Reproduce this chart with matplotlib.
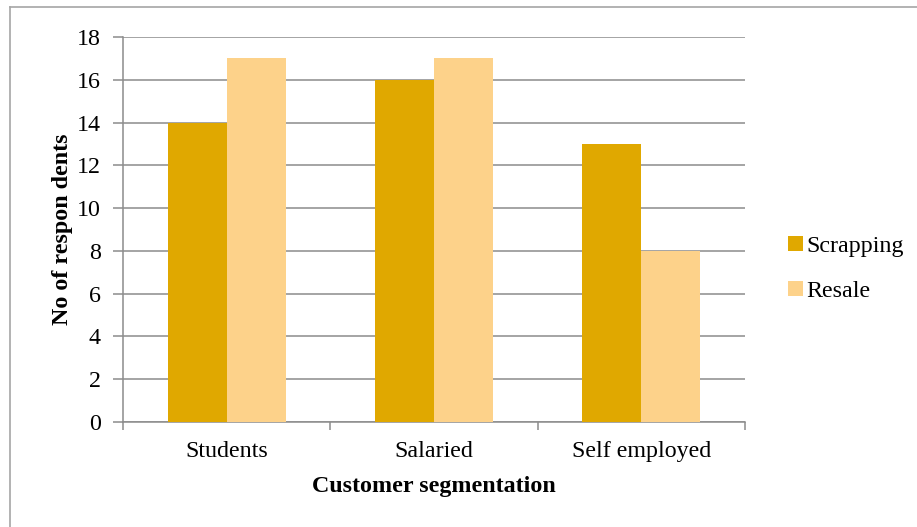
import matplotlib.pyplot as plt
from matplotlib.lines import Line2D
import numpy as np

CATEGORIES = ["Students", "Salaried", "Self employed"]
SCRAPPING = [14, 16, 13]
RESALE = [17, 17, 8]
Y_TICKS = [0, 2, 4, 6, 8, 10, 12, 14, 16, 18]

SCRAP_COLOR = "#E0A800"
RESALE_COLOR = "#FDD28A"
GRID_COLOR = "#8C8C8C"
BAR_W = 0.285
FS = 17.3

plt.rcParams["font.family"] = ["Liberation Serif", "DejaVu Serif"]

fig = plt.figure(figsize=(9.17, 5.27), dpi=100)
ax = fig.add_axes([123 / 917, 1 - 422 / 527, (745 - 123) / 917, (422 - 37) / 527])

x = np.arange(len(CATEGORIES))
ax.bar(x - BAR_W / 2, SCRAPPING, BAR_W, color=SCRAP_COLOR, label="Scrapping", zorder=3)
ax.bar(x + BAR_W / 2, RESALE, BAR_W, color=RESALE_COLOR, label="Resale", zorder=3)

ax.set_xlim(-0.5, len(CATEGORIES) - 0.5)
ax.set_ylim(0, 18)
ax.set_yticks(Y_TICKS)
ax.yaxis.grid(True, color=GRID_COLOR, linewidth=1.1, zorder=0)
ax.set_axisbelow(True)

# category labels between boundary ticks, Excel style
ax.set_xticks(np.arange(-0.5, len(CATEGORIES), 1.0))
ax.set_xticklabels([])
ax.set_xticks(x, minor=True)
ax.set_xticklabels(CATEGORIES, minor=True, fontsize=FS)
ax.tick_params(axis="x", which="minor", length=0, pad=14)
ax.tick_params(axis="x", which="major", length=6, color=GRID_COLOR, width=1.1)
ax.tick_params(axis="y", length=7, color=GRID_COLOR, width=1.1, labelsize=FS, pad=9)

for side in ["top", "right"]:
    ax.spines[side].set_visible(False)
for side in ["left", "bottom"]:
    ax.spines[side].set_color(GRID_COLOR)
    ax.spines[side].set_linewidth(1.1)

ax.set_xlabel("Customer segmentation", fontsize=FS, fontweight="bold", labelpad=10)
ax.set_ylabel("No of respon dents", fontsize=FS, fontweight="bold", labelpad=3)

ax.legend(loc="center left", bbox_to_anchor=(1.035, 0.397), frameon=False,
          fontsize=FS, handlelength=0.6, handleheight=0.6, handletextpad=0.15,
          labelspacing=1.0)

# outer chart border (only left and top edges visible in frame)
fig.add_artist(Line2D([10 / 917, 10 / 917], [0, 1 - 7 / 527], transform=fig.transFigure,
                      color="#A6A6A6", linewidth=1.2))
fig.add_artist(Line2D([10 / 917, 1], [1 - 7 / 527, 1 - 7 / 527], transform=fig.transFigure,
                      color="#A6A6A6", linewidth=1.2))

fig.savefig("out.png", dpi=100)
